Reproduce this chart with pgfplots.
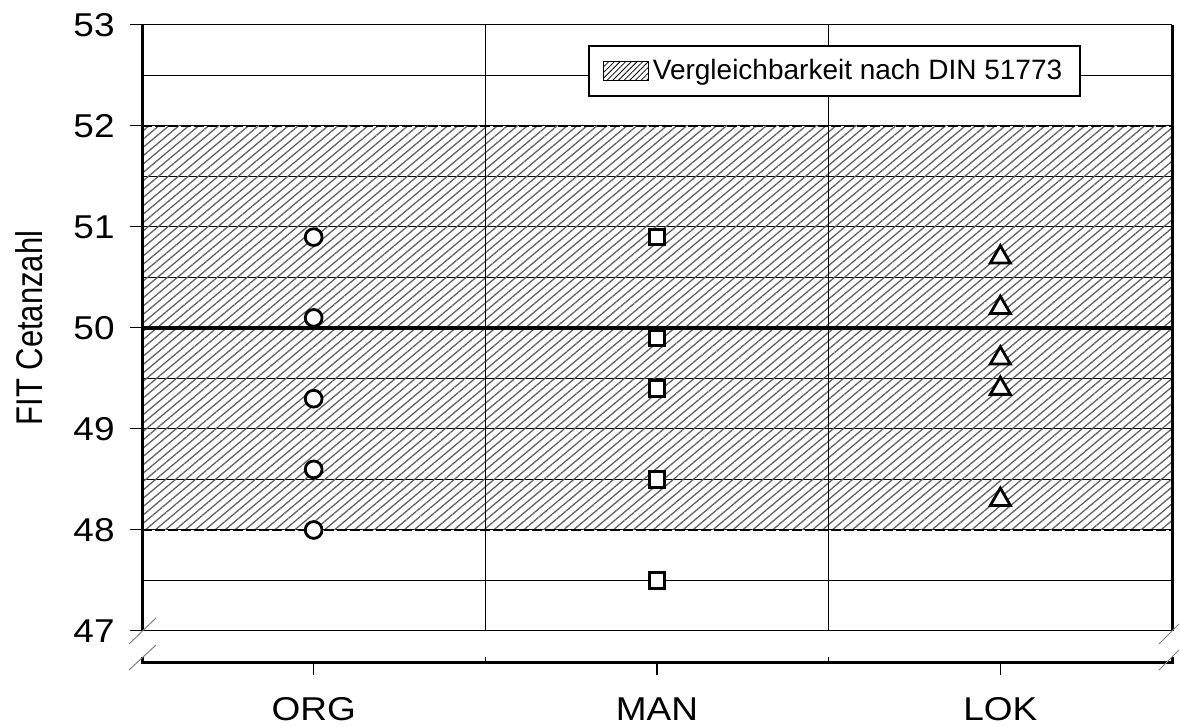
\documentclass[border=0pt]{standalone}
\usepackage{fontspec}
\setmainfont[FakeStretch=1.12]{Liberation Sans}
\newfontfamily\labelfont{Liberation Sans}
\usepackage{graphicx}
\usepackage{pgfplots}
\pgfplotsset{compat=1.18}
\usetikzlibrary{patterns.meta}

\pgfplotstableread{
x y
0 50.9
0 50.1
0 49.3
0 48.6
0 48.0
}\orgdata
\pgfplotstableread{
x y
1 50.9
1 49.9
1 49.4
1 48.5
1 47.5
}\mandata
\pgfplotstableread{
x y
2 50.7
2 50.2
2 49.7
2 49.4
2 48.3
}\lokdata

\begin{document}
\begin{tikzpicture}[x=1pt,y=1pt]
\useasboundingbox (0,0) rectangle (589.5,363.5);
\begin{axis}[
  at={(71pt,48pt)}, anchor=south west,
  scale only axis, width=515pt, height=303pt,
  xmin=-0.5, xmax=2.5, ymin=47, ymax=53,
  clip=false,
  axis line style={draw=none},
  xtick=\empty,
  ytick={47,48,...,53}, minor ytick={47.5,48.5,...,52.5},
  ymajorgrids, yminorgrids,
  tick pos=left, tick align=outside,
  major tick length=6pt, minor tick length=0pt,
  major grid style={black, line width=0.5pt},
  minor grid style={black, line width=0.5pt},
  tick style={black, line width=0.5pt},
  yticklabel style={font=\fontsize{16.5}{19}\selectfont, anchor=east, inner sep=0pt, xshift=-7.5pt},
  /pgf/number format/assume math mode=true,
  ylabel={\scalebox{1}[1.2]{\labelfont FIT Cetanzahl}},
  ylabel style={font=\fontsize{15.5}{18}\selectfont, at={(axis description cs:-0.096,0.5)}, anchor=south, inner sep=0pt},
  legend style={at={(0.9117,0.967)}, anchor=north east, draw=black, line width=0.8pt, fill=white,
    font=\labelfont\fontsize{14}{16}\selectfont, inner xsep=7pt, inner ysep=4.75pt},
  legend cell align=left,
]
\addplot[draw=none, pattern={Lines[angle=40,distance=3.2pt,line width=0.65pt]}, pattern color=gray!75!black,
  legend image code/.code={\draw[line width=0.5pt, pattern={Lines[angle=45,distance=2pt,line width=0.4pt]}, pattern color=black] (0pt,-4.75pt) rectangle (22.5pt,4.75pt);}]
  coordinates {(-0.5,48) (2.5,48) (2.5,52) (-0.5,52)} -- cycle;
\addlegendentry{Vergleichbarkeit nach DIN 51773}
\addplot[forget plot, black, line width=0.5pt] coordinates {(0.5,47) (0.5,53)};
\addplot[forget plot, black, line width=0.5pt] coordinates {(1.5,47) (1.5,53)};
\addplot[forget plot, black, line width=1.1pt, dash pattern=on 5pt off 1.5pt] coordinates {(-0.5,48) (2.5,48)};
\addplot[forget plot, black, line width=1.1pt, dash pattern=on 5pt off 1.5pt] coordinates {(-0.5,52) (2.5,52)};
\addplot[forget plot, black, line width=2pt] coordinates {(-0.5,50) (2.5,50)};
\addplot[forget plot, only marks, mark=*, mark size=4.2pt, mark options={draw=black, fill=white, line width=1.4pt}] table[x=x,y=y] {\orgdata};
\addplot[forget plot, only marks, mark=square*, mark size=3.9pt, mark options={draw=black, fill=white, line width=1.4pt}] table[x=x,y=y] {\mandata};
\addplot[forget plot, only marks, mark=triangle*, mark size=5.8pt, mark options={draw=black, fill=white, line width=1.4pt}] table[x=x,y=y] {\lokdata};
\end{axis}
\begin{axis}[
  at={(71pt,32pt)}, anchor=south west,
  scale only axis, width=515pt, height=10pt,
  xmin=-0.5, xmax=2.5, ymin=0, ymax=1,
  axis line style={draw=none},
  ytick=\empty,
  xtick={0,1,2}, xticklabels={ORG,MAN,LOK},
  tick pos=left, tick align=outside, major tick length=6pt,
  tick style={black, line width=0.75pt},
  xticklabel style={font=\fontsize{16.5}{19}\selectfont, anchor=north, inner sep=0pt, yshift=-11pt},
]
\end{axis}
% axis frame decorations
\draw[line width=1.5pt] (71,48) -- (71,351);
\draw[line width=1.5pt] (586,48) -- (586,351);
\draw[line width=1.5pt] (71,35) -- (71,32) -- (586,32) -- (586,35);
\draw[line width=0.5pt] (242.67,32) -- (242.67,35);
\draw[line width=0.5pt] (414.33,32) -- (414.33,35);
% axis break marks
\draw[gray, line width=0.5pt] (64.5,41.5) -- (78,54.5);
\draw[gray, line width=0.5pt] (64.5,28.5) -- (78,41);
\draw[gray, line width=0.5pt] (579.5,41.5) -- (590,52);
\draw[gray, line width=0.5pt] (579.5,28.5) -- (590,39);
\end{tikzpicture}
\end{document}
